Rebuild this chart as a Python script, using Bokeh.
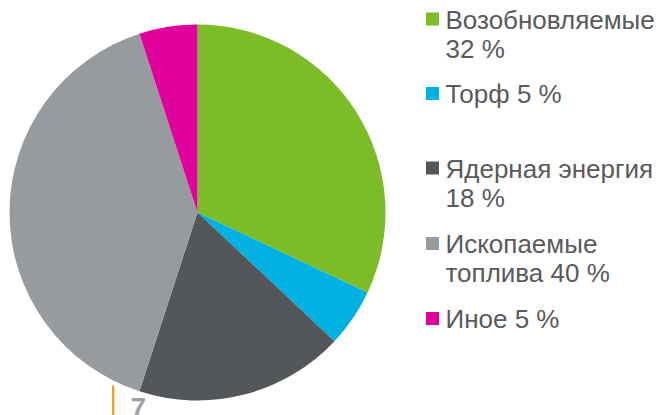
import numpy as np
from bokeh.plotting import figure
from bokeh.models import Range1d, ColumnDataSource
from bokeh.core.properties import value
from bokeh.embed import file_html
from bokeh.resources import INLINE

# ---- data ----
categories = ["Возобновляемые", "Торф", "Ядерная энергия", "Ископаемые топлива", "Иное"]
shares = [32, 5, 18, 40, 5]
colors = ["#7CBD27", "#00B2E2", "#53575A", "#989B9E", "#E0009B"]
legend_text = ["Возобновляемые\n32 %", "Торф 5 %", "Ядерная энергия\n18 %",
               "Ископаемые\nтоплива 40 %", "Иное 5 %"]
page_number = "7"

W, H = 662, 415
p = figure(width=W, height=H, output_backend="svg", toolbar_location=None,
           x_range=Range1d(0, W), y_range=Range1d(0, H),
           x_axis_type=None, y_axis_type=None, min_border=0)
p.outline_line_color = None
p.grid.visible = False

def py(page_y):
    return H - page_y

def px(page_x):
    return page_x

# pie
frac = np.array(shares, dtype=float) / np.sum(shares)
cum = np.concatenate([[0], np.cumsum(frac)])
start = np.pi / 2 - 2 * np.pi * cum[:-1]
end = np.pi / 2 - 2 * np.pi * cum[1:]
src = ColumnDataSource(dict(start=start, end=end, color=colors))
p.wedge(x=px(197), y=py(212), radius=188, start_angle="start", end_angle="end",
        direction="clock", fill_color="color", line_color=None, source=src)

# legend
item_centers = [18.5, 93, 167.5, 243, 318]
sq = ColumnDataSource(dict(x=[px(432)] * 5, y=[py(c) for c in item_centers], color=colors))
p.scatter(x="x", y="y", marker="square", size=13, fill_color="color", line_color=None, source=sq)

tx, ty, tt = [], [], []
for c, lab in zip(item_centers, legend_text):
    for i, line in enumerate(lab.split("\n")):
        tx.append(px(445))
        ty.append(py(c + 0.5 + 29 * i))
        tt.append(line)
p.text(x=tx, y=ty, text=tt, text_font=value("Liberation Sans"), text_font_size="26px",
       text_color="#595A5C", text_baseline="alphabetic", text_align="left")

# page number
p.segment(x0=[px(112.7)], y0=[py(385)], x1=[px(112.7)], y1=[py(420)], line_color="#F39200", line_width=2)
p.text(x=[px(130)], y=[py(407)], text=[page_number], text_font=value("Liberation Sans"),
       text_font_size="28px", text_font_style="bold", text_color="#A0A0A0",
       text_baseline="alphabetic", text_align="left")

open("out.html", "w").write(file_html(p, INLINE))
